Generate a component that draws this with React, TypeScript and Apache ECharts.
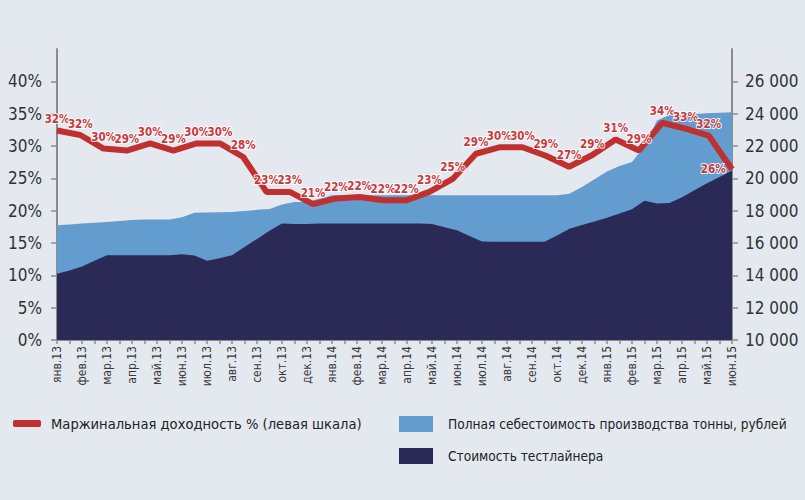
import React, { useEffect, useRef } from "react";
import * as echarts from "echarts";

const monthLabels = [
  "янв.13", "фев.13", "мар.13", "апр.13", "май.13", "июн.13", "июл.13", "авг.13", "сен.13", "окт.13", "дек.13",
  "янв.14", "фев.14", "мар.14", "апр.14", "май.14", "июн.14", "июл.14", "авг.14", "сен.14", "окт.14", "дек.14",
  "янв.15", "фев.15", "мар.15", "апр.15", "май.15", "июн.15",
];

// area series, read at every axis tick (two ticks per label)
const fullCost = [
  17100, 17150, 17200, 17250, 17300, 17360, 17420, 17450, 17450, 17450, 17600, 17870, 17890, 17900, 17920, 17980,
  18050, 18110, 18380, 18540, 18540, 18740, 18950, 18950, 18950, 18950, 18950, 18950, 18950, 18950, 18950, 18950,
  18950, 18950, 18950, 18950, 18950, 18950, 18950, 18950, 18950, 19040, 19470, 19940, 20430, 20770, 21010, 21990,
  23580, 23910, 23950, 23980, 24020, 24060, 24090,
];

const testlinerCost = [
  14100, 14300, 14550, 14900, 15250, 15250, 15250, 15250, 15250, 15250, 15300, 15230, 14900, 15060, 15250, 15750,
  16250, 16760, 17200, 17180, 17170, 17200, 17200, 17200, 17200, 17200, 17200, 17200, 17200, 17200, 17170, 16980,
  16790, 16440, 16100, 16070, 16070, 16070, 16070, 16070, 16470, 16880, 17110, 17330, 17560, 17830, 18090, 18620,
  18450, 18475, 18830, 19270, 19690, 20090, 20490,
];

// monthly margin, % (30 months)
const marginPct = [
  32.4, 31.7, 29.6, 29.3, 30.4, 29.3, 30.4, 30.4, 28.3, 22.9, 22.9, 21.0, 21.9, 22.1, 21.6,
  21.6, 22.9, 24.9, 28.8, 29.8, 29.8, 28.5, 26.8, 28.6, 31.0, 29.3, 33.6, 32.7, 31.6, 26.4,
];

const leftTicks = [0, 5, 10, 15, 20, 25, 30, 35, 40];
const rightTicks = [10000, 12000, 14000, 16000, 18000, 20000, 22000, 24000, 26000];

const NAME_LINE = "Маржинальная доходность % (левая шкала)";
const NAME_FULL = "Полная себестоимость производства тонны, рублей";
const NAME_TEST = "Стоимость тестлайнера";

const FONT = "'DejaVu Sans Condensed', 'Liberation Sans Narrow', Roboto, sans-serif";
const BG = "#e4e9f0";
const RED = "#c0302f";
const LIGHT = "#639ccf";
const DARK = "#2b2a56";
const AXIS = "#8c8c8c";

export default function App() {
  const ref = useRef<HTMLDivElement>(null);

  useEffect(() => {
    if (!ref.current) return;
    const chart = echarts.init(ref.current, null, { renderer: "svg" });

    const tickNames = fullCost.map((_, k) => (k % 2 === 0 ? monthLabels[k / 2] ?? "" : ""));
    const lineData = marginPct.map((v, i) => {
      const item: any = { value: [i, v] };
      if (i === 0) item.label = { offset: [10, 0] };
      if (i === marginPct.length - 1) item.label = { position: "left", distance: 6 };
      return item;
    });

    const fmtThousands = (v: number) => String(v).replace(/\B(?=(\d{3})+(?!\d))/g, " ");

    chart.setOption({
      animation: false,
      backgroundColor: BG,
      textStyle: { fontFamily: FONT },
      grid: { left: 57, right: 73, top: 49, bottom: 160, containLabel: false },
      legend: [
        {
          left: 8,
          top: 411,
          data: [NAME_LINE],
          icon: "roundRect",
          itemWidth: 28,
          itemHeight: 7,
          selectedMode: false,
          textStyle: { fontSize: 14.6, color: "#222", fontFamily: FONT, padding: [0, 0, 0, 5] },
        },
        {
          left: 394,
          top: 411,
          orient: "vertical",
          data: [NAME_FULL, NAME_TEST],
          icon: "rect",
          itemWidth: 34,
          itemHeight: 16,
          itemGap: 16,
          selectedMode: false,
          textStyle: { fontSize: 13.6, color: "#222", fontFamily: FONT, padding: [0, 0, 0, 10] },
        },
      ],
      xAxis: [
        {
          type: "category",
          data: tickNames,
          boundaryGap: false,
          axisLine: { show: true, lineStyle: { color: AXIS, width: 2 } },
          axisTick: { show: true, interval: 0, length: 4, lineStyle: { color: AXIS, width: 1.5 } },
          axisLabel: { interval: 0, rotate: 90, margin: 6, fontSize: 12, color: "#3a3a3a", fontFamily: FONT },
          splitLine: { show: false },
        },
        { type: "value", min: 0, max: marginPct.length - 1, show: false },
      ],
      yAxis: [
        {
          type: "value",
          position: "left",
          min: 0,
          max: 45,
          interval: 5,
          axisLine: { show: true, lineStyle: { color: AXIS, width: 2 } },
          axisTick: { show: true, length: 6, customValues: leftTicks, lineStyle: { color: AXIS, width: 1.5 } },
          axisLabel: {
            customValues: leftTicks,
            formatter: (v: number) => (v > 40 ? "" : v + "%"),
            fontSize: 17,
            margin: 15,
            color: "#333",
            fontFamily: FONT,
          },
          splitLine: { show: false },
        },
        {
          type: "value",
          position: "right",
          min: 10000,
          max: 28000,
          interval: 2000,
          axisLine: { show: true, lineStyle: { color: AXIS, width: 2 } },
          axisTick: { show: true, length: 6, customValues: rightTicks, lineStyle: { color: AXIS, width: 1.5 } },
          axisLabel: {
            customValues: rightTicks,
            formatter: (v: number) => (v > 26000 ? "" : fmtThousands(v)),
            fontSize: 17,
            margin: 13,
            color: "#333",
            fontFamily: FONT,
          },
          splitLine: { show: false },
        },
      ],
      series: [
        {
          name: NAME_FULL,
          type: "line",
          xAxisIndex: 0,
          yAxisIndex: 1,
          data: fullCost,
          symbol: "none",
          lineStyle: { width: 0, color: LIGHT },
          itemStyle: { color: LIGHT },
          areaStyle: { color: LIGHT, opacity: 1, origin: "start" },
          z: 1,
        },
        {
          name: NAME_TEST,
          type: "line",
          xAxisIndex: 0,
          yAxisIndex: 1,
          data: testlinerCost,
          symbol: "none",
          lineStyle: { width: 0, color: DARK },
          itemStyle: { color: DARK },
          areaStyle: { color: DARK, opacity: 1, origin: "start" },
          z: 2,
        },
        {
          name: NAME_LINE,
          type: "line",
          xAxisIndex: 1,
          yAxisIndex: 0,
          data: lineData,
          symbol: "circle",
          symbolSize: 1,
          showSymbol: true,
          lineStyle: { color: RED, width: 6 },
          itemStyle: { color: RED },
          label: {
            show: true,
            position: "top",
            distance: 5,
            formatter: (p: any) => Math.round(p.value[1]) + "%",
            fontSize: 11.5,
            fontWeight: "bold",
            color: "#c8383a",
            fontFamily: FONT,
            textBorderColor: "rgba(255,255,255,0.85)",
            textBorderWidth: 2,
          },
          labelLayout: { hideOverlap: false },
          z: 5,
        },
      ],
    });

    return () => chart.dispose();
  }, []);

  return (
    <div style={{ position: "fixed", left: 0, top: 0, width: 805, height: 500, background: BG }}>
      <div ref={ref} style={{ width: 805, height: 500 }} />
    </div>
  );
}
